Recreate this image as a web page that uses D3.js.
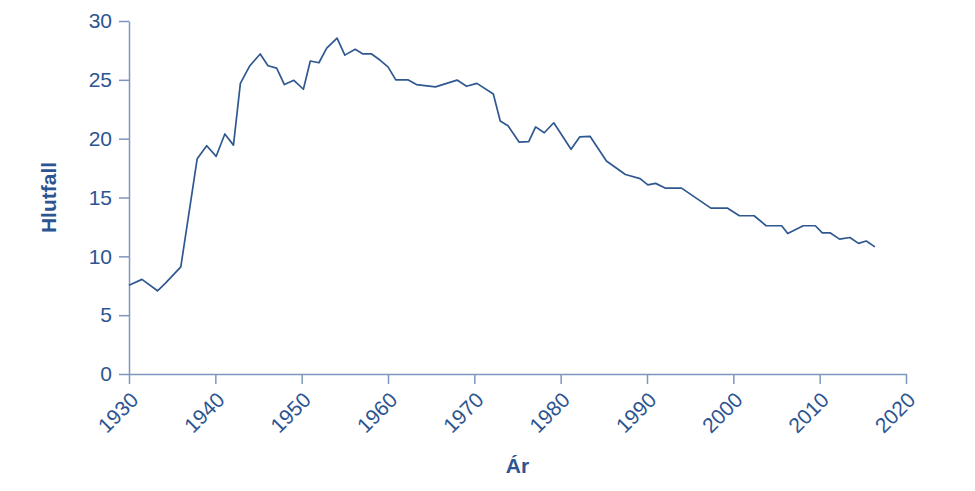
<!DOCTYPE html>
<html>
<head>
<meta charset="utf-8">
<script src="https://cdn.jsdelivr.net/npm/d3@7"></script>
<style>
  body { margin: 0; background: #fff; }
  svg { display: block; font-family: "Liberation Sans", Arial, sans-serif; }
</style>
</head>
<body>
<div id="chart"></div>
<script>
// chart data
const years = [
  1930, 1931.5, 1933.3, 1934.2, 1936.0, 1937.9, 1939.0, 1940.1, 1941.1, 1942.1,
  1942.9, 1944.0, 1945.2, 1946.1, 1947.1, 1948.0, 1949.1, 1950.2, 1951.0, 1952.0,
  1952.9, 1954.1, 1955.0, 1956.2, 1957.1, 1958.1, 1959.1, 1960.0, 1960.9, 1962.3,
  1963.3, 1965.5, 1968.0, 1969.1, 1970.3, 1972.2, 1973.0, 1973.9, 1975.2, 1976.3,
  1977.1, 1978.1, 1979.2, 1981.2, 1982.2, 1983.4, 1985.3, 1987.5, 1989.2, 1990.1,
  1991.0, 1992.1, 1994.0, 1997.4, 1999.3, 2000.7, 2002.4, 2003.8, 2005.6, 2006.3,
  2008.1, 2009.5, 2010.3, 2011.2, 2012.3, 2013.5, 2014.5, 2015.4, 2016.4
];
const values = [
  7.55, 8.04, 7.07, 7.7, 9.1, 18.3, 19.4, 18.5, 20.4, 19.45,
  24.7, 26.2, 27.2, 26.2, 26.0, 24.6, 24.96, 24.2, 26.6, 26.45,
  27.7, 28.55, 27.1, 27.6, 27.2, 27.2, 26.66, 26.1, 25.0, 25.0,
  24.6, 24.4, 24.98, 24.45, 24.7, 23.8, 21.5, 21.1, 19.7, 19.75,
  21.0, 20.5, 21.35, 19.1, 20.15, 20.2, 18.1, 16.95, 16.6, 16.07,
  16.2, 15.8, 15.8, 14.1, 14.1, 13.45, 13.45, 12.6, 12.6, 11.94,
  12.6, 12.6, 12.0, 12.0, 11.46, 11.6, 11.1, 11.3, 10.8
];
const xTicks = [1930, 1940, 1950, 1960, 1970, 1980, 1990, 2000, 2010, 2020];
const yTicks = [0, 5, 10, 15, 20, 25, 30];
const xLabel = "Ár";
const yLabel = "Hlutfall";

const width = 975;
const height = 491;
const margin = { top: 21, right: 69, bottom: 117, left: 129 };

const textColor = "#2c5491";
const axisColor = "#7d96bf";
const lineColor = "#2f5890";

const data = years.map((y, i) => ({ year: y, value: values[i] }));

const svg = d3.select("#chart")
  .append("svg")
  .attr("width", width)
  .attr("height", height);

const x = d3.scaleLinear()
  .domain([1930, 2020])
  .range([margin.left, width - margin.right]);

const y = d3.scaleLinear()
  .domain([0, 30])
  .range([height - margin.bottom, margin.top]);

// x axis
const gx = svg.append("g")
  .attr("transform", `translate(0,${height - margin.bottom})`)
  .call(d3.axisBottom(x).tickValues(xTicks).tickFormat(d3.format("d")).tickSize(10).tickSizeOuter(0));

gx.selectAll("text")
  .attr("y", 0)
  .attr("dy", "0.35em")
  .attr("text-anchor", "end")
  .attr("transform", "translate(5,22) rotate(-45)");

// y axis
const gy = svg.append("g")
  .attr("transform", `translate(${margin.left},0)`)
  .call(d3.axisLeft(y).tickValues(yTicks).tickSize(10).tickPadding(7).tickSizeOuter(0));

svg.selectAll(".domain, .tick line")
  .attr("stroke", axisColor)
  .attr("stroke-width", 1.5);
svg.selectAll(".tick text")
  .attr("fill", textColor)
  .attr("font-size", 21)
  .attr("font-family", "Liberation Sans, Arial, sans-serif");

// line
svg.append("path")
  .datum(data)
  .attr("fill", "none")
  .attr("stroke", lineColor)
  .attr("stroke-width", 1.7)
  .attr("stroke-linejoin", "round")
  .attr("d", d3.line().x(d => x(d.year)).y(d => y(d.value)));

// axis titles
svg.append("text")
  .attr("x", (margin.left + width - margin.right) / 2)
  .attr("y", 473)
  .attr("text-anchor", "middle")
  .attr("font-size", 21)
  .attr("font-weight", "bold")
  .attr("fill", textColor)
  .text(xLabel);

svg.append("text")
  .attr("transform", `translate(56,${(margin.top + height - margin.bottom) / 2}) rotate(-90)`)
  .attr("text-anchor", "middle")
  .attr("font-size", 21)
  .attr("font-weight", "bold")
  .attr("fill", textColor)
  .text(yLabel);
</script>
</body>
</html>
